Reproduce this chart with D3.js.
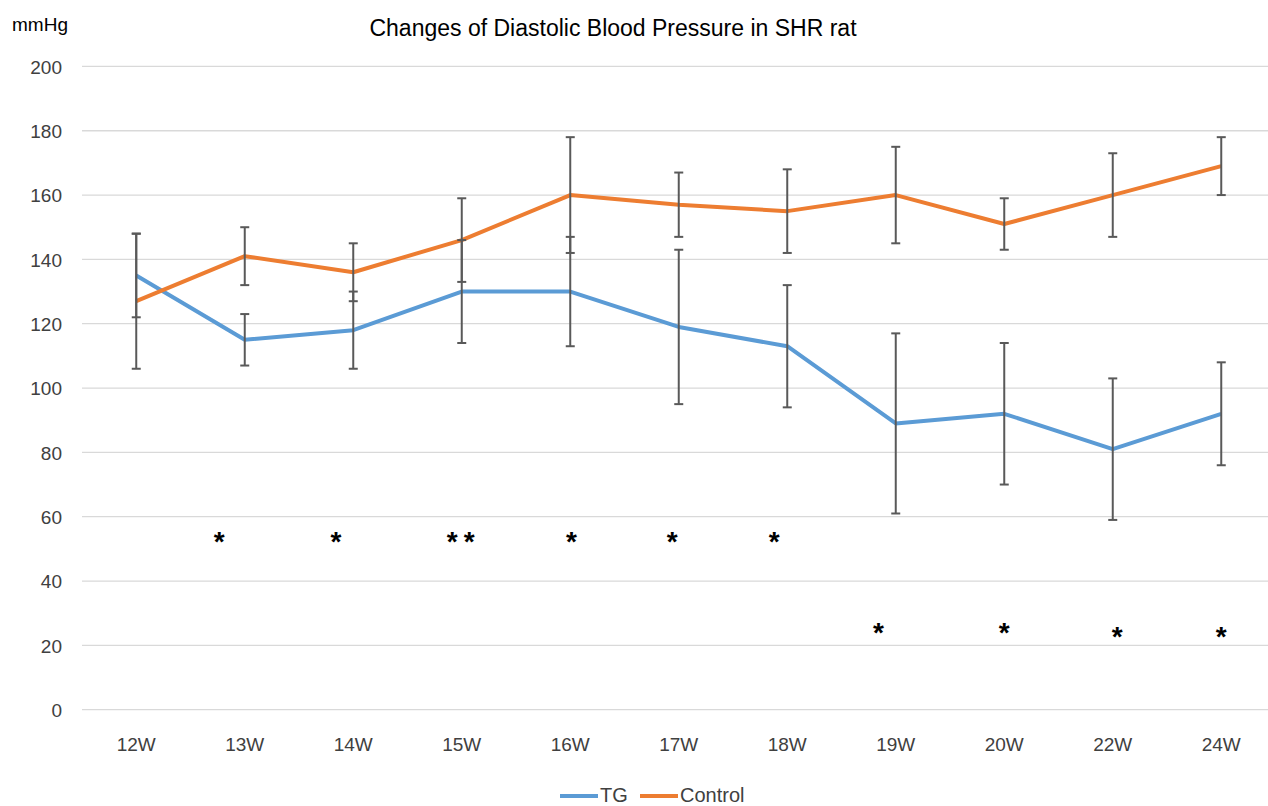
<!DOCTYPE html>
<html><head><meta charset="utf-8">
<script src="https://cdn.jsdelivr.net/npm/d3@7"></script>
<style>html,body{margin:0;padding:0;background:#fff;overflow:hidden}</style>
</head><body>
<svg id="chart" width="1268" height="806"></svg>
<script>
const categories = ["12W","13W","14W","15W","16W","17W","18W","19W","20W","22W","24W"];
const tgValues = [135,115,118,130,130,119,113,89,92,81,92];
const tgErrors = [13,8,12,16,17,24,19,28,22,22,16];
const controlValues = [127,141,136,146,160,157,155,160,151,160,169];
const controlErrors = [21,9,9,13,18,10,13,15,8,13,9];
const yTicks = [0,20,40,60,80,100,120,140,160,180,200];
const seriesNames = ["TG","Control"];
// significance marks: text, position along category axis (index units), y value
const starLabels = ["*","*","**","*","*","*","*","*","*","*"];
const starPos = [0.765,1.84,2.99,4.01,4.94,5.88,6.84,8.0,9.04,10.0];
const starY = [49.3,49.3,49.3,49.3,49.3,49.3,21,21,19.8,19.8];

(function(){
const W = 1268, H = 806;
const font = "'Liberation Sans', Arial, sans-serif";
const svg = d3.select("#chart");
const pLeft = 82, pRight = 1275.5, pTop = 66.4, pBottom = 709.7;
const x = d3.scaleBand().domain(categories).range([pLeft, pRight]).padding(0);
const xi = d3.scaleLinear().domain([0, categories.length - 1]).range([x(categories[0]) + x.bandwidth()/2, x(categories[categories.length-1]) + x.bandwidth()/2]);
const y = d3.scaleLinear().domain([0, 200]).range([pBottom, pTop]);
const cx = c => x(c) + x.bandwidth()/2;

svg.append("g").selectAll("line").data(yTicks).join("line")
  .attr("x1", pLeft).attr("x2", W).attr("y1", d => y(d)).attr("y2", d => y(d))
  .attr("stroke", "#d9d9d9").attr("stroke-width", 1.3);

const yAxis = d3.axisLeft(y).tickValues(yTicks).tickSize(0).tickPadding(0);
const gy = svg.append("g").attr("transform", `translate(62,0)`).call(yAxis);
gy.select(".domain").remove();
gy.selectAll("text").attr("font-family", font).attr("font-size", 19).attr("fill", "#404040").attr("dy", "0.36em");

const xAxis = d3.axisBottom(x).tickSize(0).tickPadding(0);
const gx = svg.append("g").attr("transform", `translate(0,${737})`).call(xAxis);
gx.select(".domain").remove();
gx.selectAll("text").attr("font-family", font).attr("font-size", 19).attr("fill", "#404040").attr("dy", "0.71em");

svg.append("text").attr("x", 40).attr("y", 31).attr("text-anchor", "middle")
  .attr("font-family", font).attr("font-size", 19).attr("fill", "#000").text("mmHg");
svg.append("text").attr("x", 613).attr("y", 36).attr("text-anchor", "middle")
  .attr("font-family", font).attr("font-size", 23).attr("fill", "#000").text("Changes of Diastolic Blood Pressure in SHR rat");

const series = [
  {name: seriesNames[0], vals: tgValues, errs: tgErrors, color: "#5b9bd5"},
  {name: seriesNames[1], vals: controlValues, errs: controlErrors, color: "#ed7d31"}
];
const line = d3.line().x((d,i) => cx(categories[i])).y(d => y(d));

series.forEach(s => {
  svg.append("path").datum(s.vals).attr("d", line)
    .attr("fill", "none").attr("stroke", s.color).attr("stroke-width", 4).attr("stroke-linejoin", "round");
});

series.forEach(s => {
  const g = svg.append("g").attr("stroke", "#595959").attr("stroke-width", 2);
  s.vals.forEach((v, i) => {
    const px = cx(categories[i]);
    const hi = y(v + s.errs[i]), lo = y(v - s.errs[i]);
    g.append("line").attr("x1", px).attr("x2", px).attr("y1", hi).attr("y2", lo);
    g.append("line").attr("x1", px - 4.5).attr("x2", px + 4.5).attr("y1", hi).attr("y2", hi);
    g.append("line").attr("x1", px - 4.5).attr("x2", px + 4.5).attr("y1", lo).attr("y2", lo);
  });
});

const spacing = 6;
svg.append("g").selectAll("text").data(starLabels).join("text")
  .attr("x", (d,i) => xi(starPos[i]) + (d.length > 1 ? spacing/2 : 0)).attr("y", (d,i) => y(starY[i]))
  .attr("text-anchor", "middle").attr("font-family", font).attr("font-size", 28).attr("font-weight", "bold")
  .attr("letter-spacing", d => d.length > 1 ? spacing : 0)
  .attr("fill", "#000").text(d => d);

const lg = svg.append("g");
const legendItems = [{x: 560, s: series[0]}, {x: 640, s: series[1]}];
legendItems.forEach(it => {
  lg.append("line").attr("x1", it.x).attr("x2", it.x + 38).attr("y1", 796).attr("y2", 796)
    .attr("stroke", it.s.color).attr("stroke-width", 4);
  lg.append("text").attr("x", it.x + 40).attr("y", 802).attr("font-family", font).attr("font-size", 20)
    .attr("fill", "#404040").text(it.s.name);
});
})();
</script>
</body></html>
